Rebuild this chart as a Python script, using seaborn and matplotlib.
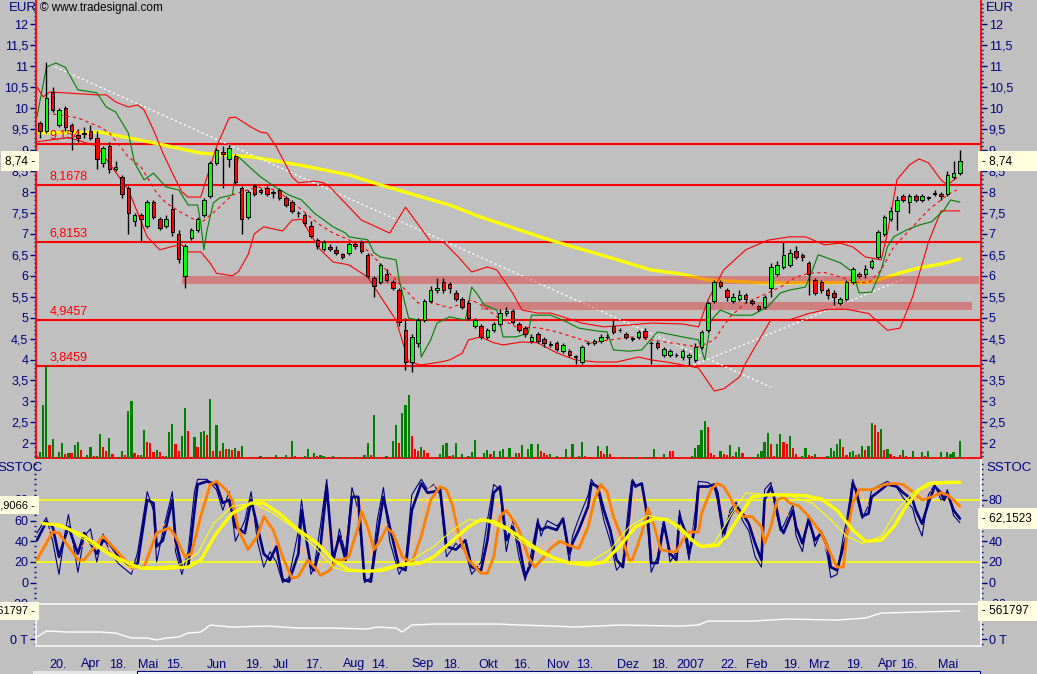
import numpy as np
import pandas as pd
import matplotlib
matplotlib.use("Agg")
import matplotlib.pyplot as plt
from matplotlib.patches import Rectangle
from matplotlib.lines import Line2D
from matplotlib.ticker import MultipleLocator, FixedLocator, FuncFormatter
import seaborn as sns

# ---------------- Daten ----------------
# Kerzen: eine Kerze je 2 Handelstage (Tag 1, 3, 5, ... 293)
opens = [9.65, 9.45, 10.4, 9.6, 10.0, 9.6, 9.35, 9.4, 9.45, 9.3,
         8.7, 9.1, 8.55, 8.35, 8.1, 7.3, 7.45, 7.2, 7.75, 7.35,
         7.2, 7.6, 7.0, 6.0, 6.9, 7.1, 7.45, 7.9, 8.7, 8.95,
         8.8, 8.85, 8.1, 7.4, 8.15, 8.05, 8.1, 8.0, 8.05, 7.85,
         7.75, 7.5, 7.45, 7.2, 6.85, 6.65, 6.68, 6.62, 6.52, 6.55,
         6.75, 6.8, 6.5, 5.95, 5.85, 6.05, 5.85, 5.65, 4.7, 3.95,
         4.4, 4.95, 5.4, 5.65, 5.85, 5.8, 5.6, 5.45, 5.35, 4.8,
         4.8, 4.55, 4.7, 4.85, 5.1, 5.15, 4.85, 4.75, 4.45, 4.6,
         4.5, 4.35, 4.4, 4.2, 4.2, 4.08, 3.95, 4.4, 4.4, 4.45,
         4.55, 4.8, 4.7, 4.62, 4.52, 4.55, 4.68, 4.4, 4.4, 4.1,
         4.1, 4.12, 4.05, 4.05, 4.0, 4.3, 4.7, 5.4, 5.85, 5.65,
         5.4, 5.45, 5.55, 5.4, 5.28, 5.25, 5.7, 6.05, 6.2, 6.25,
         6.6, 6.5, 6.3, 5.9, 5.85, 5.65, 5.6, 5.35, 5.45, 5.85,
         6.05, 6.05, 6.2, 6.45, 7.0, 7.35, 7.55, 7.9, 7.75, 7.9,
         7.8, 7.88, 7.95, 7.95, 7.95, 8.35, 8.45]
closes = [9.45, 10.25, 9.95, 9.95, 9.55, 9.45, 9.3, 9.38, 9.3, 8.8,
          9.05, 8.55, 8.6, 7.95, 7.5, 7.45, 7.35, 7.75, 7.4, 7.15,
          7.35, 7.05, 6.4, 6.7, 7.1, 7.35, 7.8, 8.7, 9.0, 8.9,
          9.05, 8.25, 7.35, 8.0, 7.95, 8.0, 7.95, 7.98, 7.85, 7.7,
          7.55, 7.5, 7.25, 6.95, 6.7, 6.8, 6.65, 6.55, 6.45, 6.75,
          6.7, 6.6, 6.0, 5.75, 6.25, 5.9, 5.7, 4.9, 3.95, 4.55,
          4.95, 5.4, 5.65, 5.7, 5.65, 5.7, 5.45, 5.25, 5.0, 4.95,
          4.55, 4.7, 4.85, 5.1, 5.15, 4.9, 4.7, 4.6, 4.55, 4.45,
          4.4, 4.38, 4.25, 4.35, 4.1, 4.05, 4.3, 4.4, 4.45, 4.55,
          4.55, 4.65, 4.7, 4.55, 4.5, 4.65, 4.55, 4.4, 4.3, 4.25,
          4.2, 4.1, 4.2, 4.1, 4.3, 4.65, 5.35, 5.85, 5.75, 5.5,
          5.5, 5.55, 5.45, 5.35, 5.2, 5.5, 6.2, 6.25, 6.5, 6.55,
          6.45, 6.45, 6.05, 5.6, 5.65, 5.55, 5.5, 5.45, 5.85, 6.15,
          6.0, 6.15, 6.35, 7.05, 7.4, 7.55, 7.8, 7.8, 7.9, 7.8,
          7.9, 7.85, 7.97, 7.9, 8.4, 8.45, 8.74]
highs = [9.7, 11.1, 10.5, 10.0, 10.05, 9.65, 9.5, 9.55, 9.6, 9.45,
         9.1, 9.2, 8.75, 8.4, 8.15, 7.5, 7.5, 7.8, 7.8, 7.4,
         7.45, 7.95, 7.1, 6.75, 7.15, 7.4, 7.85, 8.75, 9.05, 9.1,
         9.15, 8.9, 8.15, 8.05, 8.2, 8.1, 8.15, 8.05, 8.1, 7.9,
         7.8, 7.55, 7.5, 7.3, 6.9, 6.85, 6.75, 6.7, 6.55, 6.8,
         6.8, 6.85, 6.55, 6.0, 6.3, 6.15, 5.9, 5.7, 5.0, 4.6,
         5.0, 5.45, 5.75, 5.95, 5.95, 5.85, 5.65, 5.5, 5.4, 5.0,
         4.85, 4.75, 4.9, 5.2, 5.25, 5.2, 4.9, 4.8, 4.6, 4.65,
         4.55, 4.45, 4.45, 4.4, 4.25, 4.1, 4.35, 4.45, 4.5, 4.6,
         4.6, 4.95, 4.75, 4.65, 4.55, 4.7, 4.75, 4.45, 4.45, 4.3,
         4.25, 4.15, 4.25, 4.15, 4.4, 4.7, 5.4, 5.9, 5.9, 5.7,
         5.6, 5.65, 5.6, 5.45, 5.3, 5.55, 6.3, 6.35, 6.8, 6.65,
         6.7, 6.55, 6.35, 5.95, 5.9, 5.7, 5.65, 5.5, 5.9, 6.2,
         6.1, 6.25, 6.4, 7.1, 7.45, 7.65, 7.9, 7.95, 7.95, 7.95,
         7.95, 7.9, 8.05, 8.0, 8.5, 8.75, 9.0]
lows = [9.3, 9.4, 9.9, 9.55, 9.45, 9.0, 9.2, 9.3, 9.25, 8.55,
        8.6, 8.45, 8.5, 7.85, 7.0, 7.2, 6.8, 7.15, 7.35, 7.1,
        7.15, 6.95, 6.3, 5.7, 6.85, 7.05, 7.4, 7.85, 8.65, 8.1,
        8.6, 8.2, 7.0, 7.35, 7.9, 7.95, 7.9, 7.85, 7.8, 7.65,
        7.5, 7.4, 7.2, 6.9, 6.65, 6.6, 6.6, 6.5, 6.4, 6.5,
        6.65, 6.55, 5.95, 5.5, 5.8, 5.85, 5.65, 4.8, 3.75, 3.7,
        4.3, 4.9, 5.35, 5.6, 5.6, 5.6, 5.4, 5.2, 4.95, 4.75,
        4.5, 4.5, 4.65, 4.8, 5.05, 4.85, 4.65, 4.55, 4.4, 4.4,
        4.3, 4.3, 4.2, 4.15, 4.05, 3.9, 3.9, 4.35, 4.35, 4.4,
        4.5, 4.6, 4.65, 4.5, 4.45, 4.5, 4.5, 3.9, 4.25, 4.05,
        4.05, 4.05, 4.0, 3.85, 3.95, 4.25, 4.65, 5.35, 5.7, 5.4,
        5.35, 5.4, 5.35, 5.3, 5.15, 5.2, 5.5, 6.0, 6.15, 6.2,
        6.4, 6.35, 5.55, 5.55, 5.6, 5.45, 5.3, 5.3, 5.4, 5.8,
        5.95, 5.95, 6.15, 6.4, 6.95, 7.3, 7.1, 7.75, 7.5, 7.75,
        7.75, 7.8, 7.9, 7.8, 7.9, 8.3, 8.4]
candle_days = list(range(1, 294, 2))

# Umsatz je Handelstag (Tag 0 bis 293), g = steigend, r = fallend
volumes = [2, 6, 53, 92, 13, 19, 1, 6, 15, 4,
           5, 5, 13, 16, 8, 1, 3, 11, 2, 2,
           24, 11, 7, 20, 4, 1, 1, 7, 3, 47,
           57, 5, 3, 3, 28, 16, 15, 6, 8, 6,
           2, 2, 26, 34, 14, 7, 22, 50, 27, 1,
           21, 11, 26, 27, 23, 59, 7, 33, 7, 15,
           9, 9, 8, 10, 7, 12, 0, 0, 0, 0,
           0, 2, 0, 1, 1, 0, 3, 0, 1, 3,
           0, 17, 2, 0, 0, 2, 9, 0, 5, 2,
           3, 2, 0, 0, 2, 0, 1, 0, 1, 0,
           0, 1, 0, 0, 3, 15, 3, 43, 0, 0,
           0, 2, 0, 17, 33, 15, 45, 53, 63, 22,
           9, 7, 11, 8, 5, 0, 0, 0, 4, 13,
           15, 2, 3, 15, 0, 4, 0, 2, 6, 18,
           0, 0, 5, 8, 4, 7, 0, 7, 9, 0,
           10, 1, 5, 5, 13, 1, 9, 14, 1, 14,
           7, 5, 3, 4, 0, 2, 0, 1, 9, 0,
           14, 0, 2, 16, 2, 1, 1, 0, 12, 7,
           4, 12, 4, 0, 0, 0, 1, 0, 1, 0,
           1, 0, 0, 1, 1, 1, 9, 0, 0, 4,
           0, 7, 7, 0, 0, 0, 0, 0, 2, 10,
           13, 28, 37, 31, 5, 3, 1, 7, 4, 3,
           13, 2, 6, 11, 5, 0, 0, 1, 1, 4,
           7, 16, 25, 14, 2, 14, 24, 16, 14, 22,
           10, 4, 0, 2, 10, 3, 2, 4, 1, 1,
           1, 2, 10, 7, 14, 19, 11, 3, 6, 7,
           3, 4, 12, 8, 12, 35, 33, 26, 29, 8,
           9, 4, 2, 1, 3, 8, 2, 1, 7, 0,
           1, 6, 2, 7, 0, 0, 0, 6, 0, 6,
           4, 6, 1, 17]
vol_dir = ("rgggrgrggr" "grggrrggrg" "grrgrrggrg" "grrggrrrgr" "rgggrrggrr"
           "grggrgrgrg" "rgrgrggggg" "ggggrggggg" "ggrggggggr" "gggggggggg"
           "ggggggrggg" "gggggrgggr" "rrgrrggggg" "grgggggggg" "ggggrggggg"
           "grgrgrggrg" "rrrggggggg" "ggggrrrggr" "rgrggggggg" "gggggrgggg"
           "grrggggggg" "gggrrrrgrr" "grggrggggg" "gggrrggrrg" "rrgggrrgrr"
           "rgggggrrgg" "rggrggrrgr" "grrrrgrrgg" "rgrggggggg" "ggrg")
vol_days = list(range(len(volumes)))

# gleitender Durchschnitt (gelb)
ma_days = [0, 20, 36, 52, 68, 83, 99, 109, 131, 141, 163, 179, 195, 204, 213, 230, 264, 268, 274, 280, 287, 293]
ma_vals = [9.41, 9.43, 9.19, 8.93, 8.84, 8.65, 8.41, 8.17, 7.69, 7.40, 6.85, 6.50, 6.14, 6.05, 5.90, 5.83, 5.84, 5.92, 6.07, 6.19, 6.28, 6.40]

# Bollinger-Baender
upper_days = [0, 2, 4, 19, 22, 25, 29, 32, 34, 37, 40, 43, 46, 48, 52, 57, 61, 63, 68, 71,
              73, 76, 81, 83, 88, 91, 93, 103, 112, 117, 125, 129, 134, 138, 143, 146, 151, 154, 159, 163,
              167, 173, 180, 187, 195, 205, 210, 213, 218, 225, 232, 239, 244, 250, 255, 259, 263, 268, 270, 273,
              277, 280, 283, 287, 289, 292]
upper_vals = [10.51, 10.27, 10.39, 10.32, 10.32, 10.15, 10.03, 10.08, 9.96, 9.48, 8.93, 8.45, 8.0, 7.88, 7.88, 9.08, 9.77, 9.79, 9.55, 9.43,
              9.41, 9.08, 8.36, 8.22, 8.26, 8.22, 8.12, 7.33, 7.02, 7.64, 6.81, 6.81, 6.43, 6.09, 6.21, 6.14, 5.59, 5.18, 5.11, 5.11,
              5.02, 4.87, 4.78, 4.82, 4.87, 4.85, 4.78, 5.42, 6.14, 6.62, 6.85, 6.93, 6.93, 6.74, 6.78, 6.69, 6.45, 6.38, 7.02, 8.29,
              8.65, 8.79, 8.7, 8.29, 8.17, 8.34]
lower_days = [0, 10, 19, 29, 32, 35, 39, 43, 46, 48, 52, 55, 57, 62, 64, 67, 69, 72, 78, 81,
              84, 87, 90, 94, 99, 105, 114, 118, 122, 128, 131, 135, 137, 141, 145, 148, 154, 159, 165, 171,
              178, 184, 191, 195, 200, 205, 210, 215, 218, 223, 225, 233, 239, 245, 251, 257, 264, 270, 274, 278,
              283, 287, 293]
lower_vals = [9.2, 9.3, 9.1, 8.05, 7.5, 6.93, 6.62, 6.7, 6.74, 6.57, 6.57, 6.3, 6.06, 6.0, 6.1, 6.5, 7.0, 7.17, 7.07, 7.33,
              7.35, 6.97, 6.62, 6.33, 6.26, 5.97, 4.94, 3.94, 3.87, 3.94, 3.99, 4.15, 4.47, 4.54, 4.4, 4.35, 4.42, 4.4, 4.16, 3.99,
              3.94, 3.94, 4.06, 3.99, 3.94, 3.87, 3.80, 3.25, 3.3, 3.58, 3.92, 4.95, 4.95, 5.1, 5.2, 5.2, 5.1, 4.7, 4.75, 5.5,
              6.8, 7.55, 7.55]
mid_days = [3, 13, 20, 23, 29, 33, 38, 41, 46, 52, 57, 62, 70, 76, 83, 89, 94, 99, 105, 113,
            117, 121, 125, 131, 138, 142, 146, 152, 159, 165, 171, 176, 182, 189, 195, 201, 210, 215, 220, 225,
            232, 236, 241, 245, 250, 255, 260, 264, 268, 272, 278, 283, 289, 292]
mid_vals = [9.89, 9.77, 9.55, 9.41, 8.84, 8.6, 7.98, 7.74, 7.5, 7.26, 7.57, 7.93, 8.12, 8.05, 7.64, 7.26, 7.02, 6.86, 6.6, 5.97,
            5.66, 5.35, 5.37, 5.23, 5.42, 5.26, 5.02, 4.78, 4.76, 4.66, 4.52, 4.4, 4.47, 4.54, 4.47, 4.4, 4.3, 4.47, 5.02, 5.35,
            5.59, 5.73, 5.97, 6.06, 6.08, 5.97, 5.85, 5.83, 6.14, 6.69, 7.17, 7.57, 7.93, 8.05]

# gruene Linie
green_days = [0, 3, 6, 9, 13, 19, 22, 25, 29, 31, 34, 37, 41, 45, 48, 51, 52, 53, 54, 56,
              58, 62, 64, 66, 71, 76, 80, 84, 88, 94, 98, 99, 105, 107, 109, 114, 115, 118, 121, 122,
              125, 127, 131, 136, 138, 140, 142, 146, 148, 152, 156, 157, 163, 167, 172, 178, 181, 183, 188, 192,
              197, 201, 205, 210, 212, 214, 217, 221, 227, 232, 236, 239, 244, 246, 248, 250, 255, 259, 261, 265,
              268, 270, 272, 276, 280, 284, 288, 290, 293]
green_vals = [9.79, 10.98, 11.08, 10.98, 10.44, 10.37, 10.03, 9.91, 9.41, 8.7, 8.29, 8.45, 8.12, 8.05, 7.69, 7.69, 7.26, 6.62, 7.09, 7.74,
              7.86, 7.93, 8.84, 8.7, 8.36, 8.1, 7.93, 7.81, 7.5, 7.17, 7.02, 6.93, 6.86, 6.55, 6.45, 6.38, 5.9, 4.99, 4.94, 4.06,
              4.47, 4.87, 5.02, 4.94, 5.73, 5.54, 5.3, 5.18, 4.54, 4.54, 4.63, 5.06, 5.06, 4.94, 4.75, 4.68, 4.66, 4.23, 4.2, 4.23,
              4.66, 4.6, 4.54, 4.47, 3.99, 4.94, 5.18, 5.06, 5.06, 5.26, 5.59, 5.66, 5.73, 6.1, 6.5, 6.45, 6.31, 6.09, 5.59, 5.61,
              6.14, 6.69, 6.93, 7.09, 7.21, 7.29, 7.57, 7.81, 7.76]

# Linien und Zonen
levels = [9.154, 8.1678, 6.8153, 4.9457, 3.8459]
level_labels = ["9,154", "8,1678", "6,8153", "4,9457", "3,8459"]
zone_start = [46, 141]
zone_end = [299, 297]
zone_low = [5.80, 5.18]
zone_high = [6.00, 5.37]
trend_days = [[3, 233], [207, 275]]
trend_vals = [[11.08, 3.34], [3.82, 5.92]]
price_ticks = np.arange(2, 12.01, 0.5)
last_price = 8.74

# Stochastik
k_days = [0, 3, 5, 7, 9, 10, 13, 15, 17, 19, 21, 23, 26, 30, 32, 35, 37, 38, 40, 43,
          44, 46, 48, 50, 51, 54, 57, 59, 61, 63, 66, 68, 70, 72, 74, 76, 78, 80, 83, 84,
          87, 88, 90, 92, 94, 96, 98, 100, 102, 104, 106, 108, 110, 112, 115, 117, 119, 122, 124, 126,
          128, 130, 133, 136, 138, 141, 143, 145, 147, 149, 151, 153, 155, 157, 159, 160, 162, 165, 167, 169,
          170, 172, 175, 176, 178, 180, 182, 184, 186, 188, 189, 190, 192, 194, 195, 197, 199, 201, 203, 204,
          206, 207, 209, 210, 213, 215, 216, 218, 220, 222, 224, 226, 228, 230, 231, 233, 234, 236, 237, 240,
          241, 243, 245, 247, 249, 251, 252, 254, 256, 257, 259, 260, 262, 264, 265, 268, 270, 273, 275, 278,
          279, 281, 283, 285, 287, 288, 289, 291, 293]
k_thick = [41, 59, 54, 25, 45, 54, 28, 48, 38, 28, 41, 38, 25, 15, 19, 80, 77, 35, 41, 80,
           41, 15, 15, 70, 95, 98, 95, 77, 80, 54, 48, 80, 54, 28, 22, 35, 3, 1, 28, 70,
           15, 12, 35, 93, 22, 45, 22, 83, 83, 3, 1, 45, 83, 54, 15, 12, 70, 96, 87, 88,
           90, 35, 32, 41, 15, 12, 41, 87, 93, 41, 54, 38, 6, 19, 57, 51, 54, 51, 62, 28,
           38, 51, 74, 96, 93, 70, 51, 22, 15, 64, 98, 93, 96, 61, 19, 19, 57, 28, 22, 64,
           48, 28, 54, 93, 93, 95, 87, 48, 64, 74, 67, 57, 38, 22, 80, 93, 83, 54, 48, 70,
           54, 38, 61, 41, 48, 35, 15, 12, 35, 45, 96, 90, 64, 67, 83, 90, 95, 93, 87, 80,
           70, 57, 77, 93, 87, 80, 87, 70, 62]
k_thin = [48, 63, 40, 8, 50, 66, 10, 45, 52, 20, 47, 30, 18, 8, 30, 88, 70, 20, 50, 88,
          30, 8, 30, 88, 100, 100, 90, 70, 88, 40, 60, 88, 40, 15, 30, 20, 0, 5, 50, 80,
          8, 15, 55, 100, 15, 52, 28, 92, 70, 0, 5, 60, 92, 40, 8, 20, 85, 100, 90, 95,
          85, 25, 38, 30, 8, 20, 60, 95, 90, 30, 60, 25, 2, 30, 62, 45, 60, 55, 60, 20,
          45, 62, 85, 100, 90, 60, 40, 12, 20, 80, 100, 95, 95, 50, 10, 25, 62, 20, 30, 70,
          40, 22, 70, 98, 97, 92, 80, 40, 70, 78, 60, 50, 25, 15, 90, 97, 78, 50, 55, 75,
          45, 30, 65, 35, 50, 25, 5, 8, 45, 60, 100, 85, 62, 75, 90, 95, 98, 92, 82, 72,
          60, 45, 85, 95, 80, 82, 90, 65, 58]
d_days = [0, 5, 7, 13, 15, 21, 24, 30, 34, 38, 42, 44, 47, 49, 52, 55, 57, 60, 62, 64,
          67, 70, 72, 75, 78, 81, 83, 86, 89, 90, 93, 95, 97, 99, 102, 103, 105, 107, 109, 111,
          113, 116, 119, 122, 125, 128, 130, 132, 134, 137, 141, 143, 145, 147, 149, 152, 153, 156, 158, 161,
          163, 166, 169, 172, 175, 177, 179, 181, 183, 186, 188, 189, 192, 194, 196, 198, 201, 203, 205, 207,
          210, 211, 214, 216, 218, 220, 222, 224, 227, 230, 231, 233, 235, 237, 239, 242, 245, 249, 252, 254,
          256, 257, 259, 261, 265, 269, 272, 275, 278, 281, 284, 287, 289, 291, 293]
d_orange = [22, 49, 48, 22, 22, 45, 35, 15, 15, 48, 53, 45, 25, 28, 64, 95, 98, 90, 80, 51,
            32, 45, 64, 51, 25, 4, 6, 22, 12, 7, 12, 22, 22, 25, 54, 69, 54, 32, 41, 53,
            48, 25, 19, 45, 80, 93, 90, 74, 45, 22, 9, 9, 25, 64, 70, 57, 51, 25, 15, 25,
            33, 40, 36, 33, 54, 80, 95, 88, 64, 41, 22, 22, 48, 72, 54, 32, 30, 30, 41, 49,
            49, 67, 90, 96, 93, 83, 70, 64, 64, 54, 38, 54, 80, 83, 77, 74, 64, 48, 28, 15,
            15, 45, 77, 90, 90, 95, 96, 95, 88, 80, 83, 87, 85, 80, 74]
p_days = [0, 4, 10, 14, 19, 23, 30, 33, 37, 41, 45, 49, 52, 55, 58, 62, 65, 71, 74, 78,
          81, 84, 87, 90, 93, 95, 99, 103, 106, 109, 112, 116, 121, 124, 127, 130, 134, 138, 142, 146,
          149, 153, 156, 160, 164, 168, 172, 176, 178, 181, 184, 187, 190, 192, 196, 199, 202, 205, 208, 211,
          215, 218, 221, 225, 230, 233, 236, 239, 243, 248, 252, 254, 257, 260, 264, 267, 271, 275, 279, 283,
          288, 291, 293]
p_peach = [28, 51, 38, 35, 41, 32, 12, 22, 51, 57, 28, 22, 80, 98, 90, 64, 45, 74, 45, 9,
           9, 35, 22, 15, 54, 32, 54, 80, 25, 54, 57, 15, 54, 90, 95, 70, 35, 22, 12, 77,
           70, 41, 15, 35, 41, 35, 38, 80, 95, 83, 45, 22, 87, 87, 28, 45, 32, 48, 45, 90,
           95, 70, 64, 67, 38, 87, 70, 64, 51, 51, 22, 12, 41, 93, 74, 90, 96, 90, 80, 90,
           83, 77, 70]
y_days = [2, 7, 15, 23, 29, 33, 41, 48, 52, 57, 62, 68, 72, 77, 83, 89, 94, 99, 105, 110,
          115, 122, 126, 131, 137, 141, 145, 149, 153, 159, 164, 169, 175, 180, 185, 190, 196, 200, 204, 208,
          211, 216, 219, 223, 227, 232, 238, 244, 249, 254, 259, 263, 268, 272, 276, 280, 284, 289, 293]
y_thick = [57, 56, 45, 28, 19, 14, 14, 15, 22, 48, 67, 77, 77, 67, 51, 38, 22, 12, 11, 12,
           17, 19, 25, 38, 54, 61, 59, 53, 45, 32, 24, 19, 17, 20, 35, 54, 62, 61, 54, 41,
           35, 36, 45, 64, 83, 85, 85, 84, 81, 70, 51, 40, 41, 54, 74, 90, 96, 97, 97]
yt_days = [1, 10, 20, 29, 36, 45, 51, 56, 62, 69, 75, 81, 89, 94, 98, 105, 111, 118, 126, 132,
           137, 143, 149, 153, 160, 167, 175, 182, 188, 194, 200, 205, 210, 215, 220, 225, 232, 240, 246, 252,
           257, 262, 268, 273, 278, 283, 289, 293]
y_thin = [59, 51, 32, 15, 15, 17, 28, 57, 74, 77, 67, 54, 32, 15, 11, 11, 15, 20, 35, 51,
          61, 59, 51, 41, 28, 20, 19, 32, 54, 65, 61, 48, 35, 38, 64, 87, 85, 83, 77, 61,
          45, 38, 45, 70, 87, 97, 98, 98]
stoch_levels = [80, 20]
stoch_last_right = 62.1523
stoch_last_left = 74.9066

# Unteres Fenster (in Tausend)
obv_days = [0, 3, 10, 20, 25, 30, 35, 38, 41, 45, 48, 52, 55, 62, 73, 83, 94, 105, 108, 114,
            116, 119, 126, 137, 147, 153, 164, 171, 185, 204, 210, 213, 227, 238, 254, 263, 268, 280, 293]
obv_vals = [40, 160, 140, 140, 120, 20, 20, -20, 20, 40, 120, 140, 280, 240, 260, 220, 220, 200, 240, 220,
            140, 280, 300, 300, 300, 280, 260, 240, 280, 260, 280, 360, 360, 400, 380, 420, 520, 540, 561.797]

tick_days = [4, 14, 23, 32, 41, 54, 66, 75, 85, 97, 106, 119, 129, 140, 151, 162, 171, 184, 195, 203,
             217, 225, 237, 245, 257, 267, 274, 286]
tick_labels = ["20.", "Apr", "18.", "Mai", "15.", "Jun", "19.", "Jul", "17.", "Aug", "14.", "Sep", "18.", "Okt",
               "16.", "Nov", "13.", "Dez", "18.", "2007", "22.", "Feb", "19.", "Mrz", "19.", "Apr", "16.", "Mai"]

# ---------------- Stil ----------------
BG = "#C0C0C0"
NAVY = "#000080"
BOX = "#FFFFE0"
sns.set_style("white", {"axes.facecolor": BG, "figure.facecolor": BG})
plt.rcParams["font.family"] = ["Liberation Sans", "DejaVu Sans"]
plt.rcParams["font.size"] = 8.5

W, H = 1037, 674
fig = plt.figure(figsize=(W / 100, H / 100), dpi=100, facecolor=BG)


def frame(l, t, r, b):
    return [l / W, 1 - b / H, (r - l) / W, (b - t) / H]


ax = fig.add_axes(frame(36, 0, 981, 458))
axs = fig.add_axes(frame(36, 460, 981, 604), sharex=ax)
axo = fig.add_axes(frame(36, 605, 981, 646), sharex=ax)
for a in (ax, axs, axo):
    a.set_facecolor(BG)


def line(a, xs, ys, color, lw, z):
    sns.lineplot(x=xs, y=ys, ax=a, color=color, linewidth=lw, estimator=None,
                 sort=False, legend=False, zorder=z)


def wertbox(a, y, text, links, size=8.5):
    # gelbe Wertanzeige am Achsenrand
    a.text(-0.001 if links else 1.001, y, text, transform=a.get_yaxis_transform(),
           ha="right" if links else "left", va="center", fontsize=size, color="black",
           zorder=10, clip_on=False,
           bbox=dict(boxstyle="square,pad=0.35", fc=BOX, ec="none"))


# ---------------- Hauptfenster ----------------
axv = ax.twinx()
axv.bar(vol_days, volumes, width=0.7, linewidth=0, zorder=1,
        color=["#008000" if v == "g" else "#FF0000" for v in vol_dir])
axv.set_ylim(0, 458)
axv.set_yticks([])
for s in axv.spines.values():
    s.set_visible(False)

for lv, lab in zip(levels, level_labels):
    ax.axhline(lv, color="#FF0000", lw=1.5, zorder=2)
    ax.annotate(lab, (4, lv), xytext=(0, 1.5), textcoords="offset points",
                color="#FF0000", fontsize=9, va="bottom", ha="left", zorder=5.5)

line(ax, ma_days, ma_vals, "#FFFF00", 2.4, 2.5)
for tx, ty in zip(trend_days, trend_vals):
    ax.plot(tx, ty, color="white", lw=1.0, ls=(0, (1.5, 2)), zorder=2.6)

for x0, x1, lo, hi in zip(zone_start, zone_end, zone_low, zone_high):
    ax.add_patch(Rectangle((x0, lo), x1 - x0, hi - lo, facecolor="#E72525",
                           alpha=0.42, lw=0, zorder=3))

line(ax, upper_days, upper_vals, "#FF0000", 0.8, 4)
line(ax, lower_days, lower_vals, "#FF0000", 0.8, 4)
line(ax, green_days, green_vals, "#008000", 0.8, 4)
ax.plot(mid_days, mid_vals, color="#FF0000", lw=0.8, ls=(0, (3, 3)), zorder=4)

kerzen = pd.DataFrame({"day": candle_days, "o": opens, "h": highs, "l": lows, "c": closes})
kerzen["up"] = kerzen["c"] >= kerzen["o"]
ax.vlines(kerzen["day"], kerzen["l"], kerzen["h"], color="black", lw=1.0, zorder=5)
ax.bar(kerzen["day"], (kerzen["c"] - kerzen["o"]).abs(),
       bottom=kerzen[["o", "c"]].min(axis=1), width=1.1,
       color=np.where(kerzen["up"], "#00FF00", "#FF0000"),
       edgecolor="black", linewidth=0.7, zorder=6)

ax.set_xlim(-0.3, 299.7)
ax.set_ylim(1.649, 12.585)


def komma(v, pos):
    s = f"{v:.1f}".rstrip("0").rstrip(".")
    return s.replace(".", ",")


ax.yaxis.set_major_locator(FixedLocator(price_ticks))
ax.yaxis.set_minor_locator(MultipleLocator(0.1))
ax.yaxis.set_major_formatter(FuncFormatter(komma))
ax.yaxis.set_ticks_position("both")
ax.tick_params(axis="y", which="both", left=True, right=True, labelleft=True,
               labelright=True, colors=NAVY, direction="out", width=1)
ax.tick_params(axis="y", which="major", length=4, pad=1.5, labelsize=9)
ax.tick_params(axis="y", which="minor", length=1.5)
for sp in ("left", "right", "bottom"):
    ax.spines[sp].set_color("#FF0000")
    ax.spines[sp].set_linewidth(1.3)
ax.spines["top"].set_visible(False)
ax.set_ylabel("")

wertbox(ax, last_price, "8,74 -", True)
wertbox(ax, last_price, "- 8,74          ", False)

# ---------------- Stochastik ----------------
for lv in stoch_levels:
    axs.axhline(lv, color="#FFFF00", lw=1.2, zorder=1)
line(axs, k_days, k_thin, NAVY, 0.8, 2)
line(axs, p_days, p_peach, "#FFB38A", 1.0, 2.2)
line(axs, k_days, k_thick, NAVY, 1.9, 2.5)
line(axs, d_days, d_orange, "#FF8000", 2.0, 3)
line(axs, yt_days, y_thin, "#FFFF00", 0.8, 3.5)
line(axs, y_days, y_thick, "#FFFF00", 2.4, 4)
axs.set_ylim(-20.7, 118.7)
axs.yaxis.set_major_locator(FixedLocator([-20, 0, 20, 40, 60, 80]))
axs.yaxis.set_minor_locator(MultipleLocator(5))
axs.yaxis.set_major_formatter(FuncFormatter(lambda v, p: f"{v:.0f}"))
axs.tick_params(axis="y", which="both", left=True, right=True, labelleft=True,
                labelright=True, colors=NAVY, direction="out", width=1)
axs.tick_params(axis="y", which="major", length=4, pad=1.5, labelsize=9)
axs.tick_params(axis="y", which="minor", length=1.5)
axs.spines["left"].set_visible(False)
axs.spines["top"].set_visible(False)
axs.spines["right"].set_color("#F4F4F4")
axs.spines["bottom"].set_color("#F4F4F4")
axs.spines["right"].set_linewidth(1.3)
axs.spines["bottom"].set_linewidth(1.3)
axs.set_ylabel("")
wertbox(axs, stoch_last_left, "74,9066 -", True, size=8)
wertbox(axs, stoch_last_right, "- 62,1523   ", False)

# ---------------- Unteres Fenster ----------------
line(axo, obv_days, obv_vals, "white", 1.0, 3)
axo.set_ylim(-140, 682)
axo.yaxis.set_major_locator(FixedLocator([0, 500]))
axo.yaxis.set_minor_locator(MultipleLocator(100))
axo.yaxis.set_major_formatter(FuncFormatter(lambda v, p: f"{v:.0f} T"))
axo.tick_params(axis="y", which="both", left=True, right=True, labelleft=True,
                labelright=True, colors=NAVY, direction="out", width=1)
axo.tick_params(axis="y", which="major", length=4, pad=1.5, labelsize=9)
axo.tick_params(axis="y", which="minor", length=1.5)
for sp in ("left", "right", "bottom"):
    axo.spines[sp].set_color("#F4F4F4")
    axo.spines[sp].set_linewidth(1.3)
axo.spines["top"].set_visible(False)
axo.set_ylabel("")
wertbox(axo, obv_vals[-1], "561797 -", True, size=8)
wertbox(axo, obv_vals[-1], "- 561797   ", False)

# x-Achse
axo.set_xticks(tick_days)
axo.set_xticklabels(tick_labels, ha="left")
axo.xaxis.set_minor_locator(MultipleLocator(1))
axo.tick_params(axis="x", which="both", colors=NAVY, direction="out", width=1)
axo.tick_params(axis="x", which="major", length=3, pad=6, labelsize=9)
axo.tick_params(axis="x", which="minor", length=2)
for a in (ax, axs):
    a.tick_params(axis="x", which="both", bottom=False, labelbottom=False, top=False)
    a.set_xlabel("")
axo.set_xlabel("")
ax.set_xlim(-0.3, 299.7)

# Beschriftungen
fig.text(9 / W, 1 - 8 / H, "EUR", color=NAVY, fontsize=9.5, va="center")
fig.text(986 / W, 1 - 8 / H, "EUR", color=NAVY, fontsize=9.5, va="center")
fig.text(40 / W, 1 - 8 / H, "\u00a9 www.tradesignal.com", color="black", fontsize=8.5, va="center")
fig.text(-3 / W, 1 - 468 / H, "SSTOC", color=NAVY, fontsize=9.5, va="center")
fig.text(986 / W, 1 - 468 / H, "SSTOC", color=NAVY, fontsize=9.5, va="center")
fig.add_artist(Line2D([0, 36 / W], [1 - 604 / H, 1 - 604 / H], color="#F4F4F4", lw=1.3))

# Scrollbalken
fig.add_artist(Rectangle((33 / W, 0), 104 / W, 3.5 / H, facecolor="#E4E4E4", lw=0))
fig.add_artist(Rectangle((137 / W, 0), 843 / W, 3.5 / H, facecolor="white",
                         edgecolor=NAVY, lw=0.8))

fig.savefig("out.png", dpi=100, facecolor=BG)
